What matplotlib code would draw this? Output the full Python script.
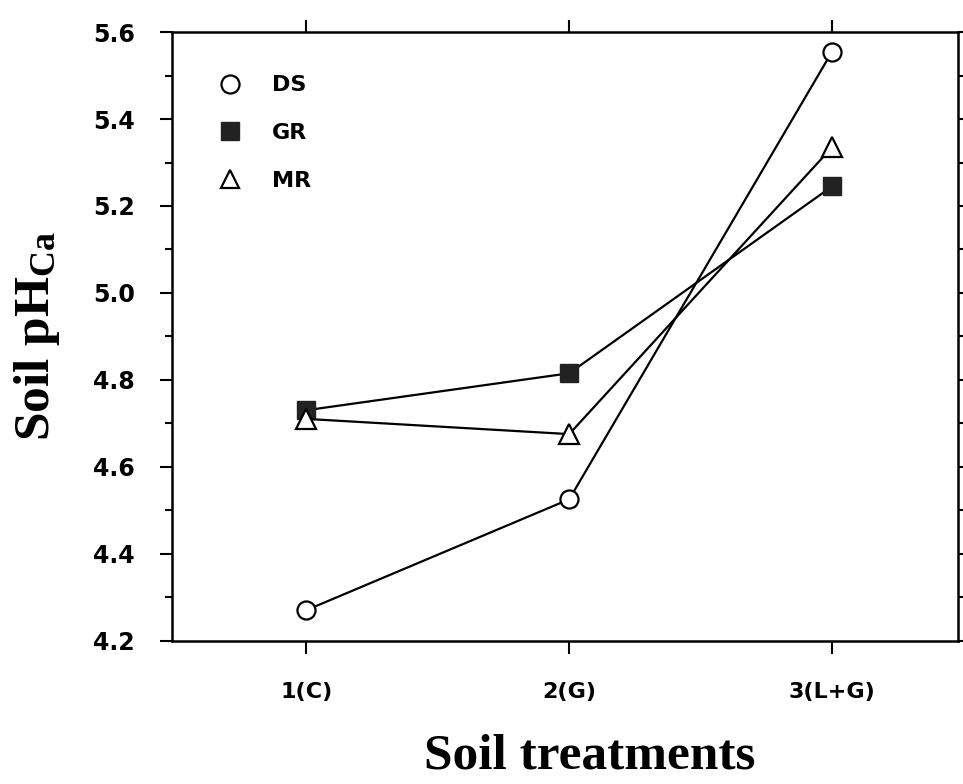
# soil pH by treatment, three sites
import matplotlib.pyplot as plt
from matplotlib.ticker import MultipleLocator

# data
treatments = ['1(C)', '2(G)', '3(L+G)']
xpos = [1, 2, 3]
ds = [4.27, 4.525, 5.555]
gr = [4.73, 4.815, 5.245]
mr = [4.71, 4.675, 5.335]

sans = ['DejaVu Sans']
serif = ['Liberation Serif', 'DejaVu Serif']
plt.rcParams['mathtext.default'] = 'regular'

fig = plt.figure(figsize=(9.63, 7.84), dpi=100)
ax = fig.add_axes([0.179, 0.183, 0.816, 0.776])

ax.plot(xpos, ds, color='black', lw=1.6, marker='o', ms=13, mfc='white',
        mec='black', mew=1.6, label='DS', zorder=3)
ax.plot(xpos, gr, color='black', lw=1.6, marker='s', ms=13, mfc='#222222',
        mec='#222222', mew=1.0, label='GR', zorder=3)
ax.plot(xpos, mr, color='black', lw=1.6, marker='^', ms=14, mfc='white',
        mec='black', mew=1.6, label='MR', zorder=3)

ax.set_xlim(0.49, 3.48)
ax.set_ylim(4.2, 5.6)
ax.set_xticks(xpos)
ax.set_xticklabels(treatments)
ax.yaxis.set_major_locator(MultipleLocator(0.2))
ax.yaxis.set_minor_locator(MultipleLocator(0.1))
ax.yaxis.set_major_formatter(plt.FormatStrFormatter('%.1f'))

ax.tick_params(axis='both', which='both', direction='out', width=1.5,
               top=True, right=True)
ax.tick_params(axis='both', which='major', length=9)
ax.tick_params(axis='y', which='minor', length=5)
ax.tick_params(axis='x', which='major', pad=21)
ax.tick_params(axis='y', which='major', pad=18)
for s in ax.spines.values():
    s.set_linewidth(1.8)

for lbl in ax.get_yticklabels():
    lbl.set_family(sans)
    lbl.set_weight('bold')
    lbl.set_fontsize(17)
for lbl in ax.get_xticklabels():
    lbl.set_family(sans)
    lbl.set_weight('bold')
    lbl.set_fontsize(16)

leg = ax.legend(loc='upper left', bbox_to_anchor=(0.059, 0.947), frameon=False,
                borderpad=0, handlelength=0, handletextpad=1.9, labelspacing=1.25,
                prop={'family': sans, 'weight': 'bold', 'size': 16})
for h in leg.legend_handles:
    h.set_markersize(13)

ax.set_xlabel('Soil treatments', family=serif, weight='bold', fontsize=37)
ax.xaxis.set_label_coords(0.531, -0.153)
ax.set_ylabel(r'Soil pH$_{\mathregular{Ca}}$', family=serif, weight='bold',
              fontsize=37)
ax.yaxis.set_label_coords(-0.14, 0.5)

fig.savefig('out.png', dpi=100)
